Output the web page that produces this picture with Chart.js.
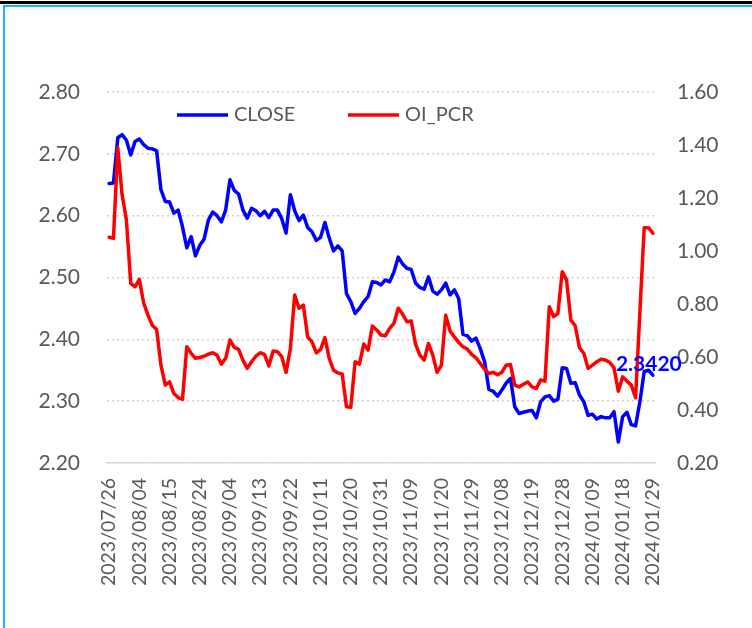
<!DOCTYPE html>
<html>
<head>
<meta charset="utf-8">
<script src="https://cdn.jsdelivr.net/npm/chart.js@4.4.0/dist/chart.umd.min.js"></script>
<style>
  html, body { margin: 0; padding: 0; background: #fff; }
  #wrap { position: relative; width: 752px; height: 628px; overflow: hidden; }
  #topbar { position: absolute; left: 0; top: 1px; width: 752px; height: 3px; background: #000; }
  #frame { position: absolute; left: 3px; top: 5px; width: 800px; height: 700px;
           border-top: 2px solid #19b5f0; border-left: 2px solid #19b5f0; }
  canvas { position: absolute; left: 0; top: 0; }
</style>
</head>
<body>
<div id="wrap">
  <div id="topbar"></div>
  <div id="frame"></div>
  <canvas id="chart" width="752" height="628"></canvas>
</div>
<script>
// trading days, 2023/07/26 .. 2024/01/29
const dates = [
  "2023/07/26","2023/07/27","2023/07/28","2023/07/31",
  "2023/08/01","2023/08/02","2023/08/03","2023/08/04","2023/08/07","2023/08/08","2023/08/09","2023/08/10",
  "2023/08/11","2023/08/14","2023/08/15","2023/08/16","2023/08/17","2023/08/18","2023/08/21","2023/08/22",
  "2023/08/23","2023/08/24","2023/08/25","2023/08/28","2023/08/29","2023/08/30","2023/08/31",
  "2023/09/01","2023/09/04","2023/09/05","2023/09/06","2023/09/07","2023/09/08","2023/09/11","2023/09/12",
  "2023/09/13","2023/09/14","2023/09/15","2023/09/18","2023/09/19","2023/09/20","2023/09/21","2023/09/22",
  "2023/09/25","2023/09/26","2023/09/27","2023/09/28",
  "2023/10/09","2023/10/10","2023/10/11","2023/10/12","2023/10/13","2023/10/16","2023/10/17","2023/10/18",
  "2023/10/19","2023/10/20","2023/10/23","2023/10/24","2023/10/25","2023/10/26","2023/10/27","2023/10/30",
  "2023/10/31",
  "2023/11/01","2023/11/02","2023/11/03","2023/11/06","2023/11/07","2023/11/08","2023/11/09","2023/11/10",
  "2023/11/13","2023/11/14","2023/11/15","2023/11/16","2023/11/17","2023/11/20","2023/11/21","2023/11/22",
  "2023/11/23","2023/11/24","2023/11/27","2023/11/28","2023/11/29","2023/11/30",
  "2023/12/01","2023/12/04","2023/12/05","2023/12/06","2023/12/07","2023/12/08","2023/12/11","2023/12/12",
  "2023/12/13","2023/12/14","2023/12/15","2023/12/18","2023/12/19","2023/12/20","2023/12/21","2023/12/22",
  "2023/12/25","2023/12/26","2023/12/27","2023/12/28","2023/12/29",
  "2024/01/02","2024/01/03","2024/01/04","2024/01/05","2024/01/08","2024/01/09","2024/01/10","2024/01/11",
  "2024/01/12","2024/01/15","2024/01/16","2024/01/17","2024/01/18","2024/01/19","2024/01/22","2024/01/23",
  "2024/01/24","2024/01/25","2024/01/26","2024/01/29"
];

const closeValues = [
  2.652,2.653,2.726,2.731,2.722,2.698,2.720,2.724,2.715,2.709,
  2.708,2.705,2.642,2.623,2.622,2.604,2.609,2.582,2.548,2.566,
  2.535,2.552,2.562,2.593,2.606,2.600,2.590,2.609,2.658,2.641,
  2.635,2.609,2.596,2.612,2.608,2.600,2.607,2.597,2.609,2.609,
  2.595,2.572,2.634,2.608,2.592,2.601,2.581,2.574,2.560,2.565,
  2.589,2.564,2.543,2.551,2.543,2.474,2.461,2.442,2.450,2.461,
  2.469,2.493,2.492,2.488,2.496,2.493,2.509,2.533,2.522,2.515,
  2.513,2.491,2.484,2.481,2.501,2.478,2.473,2.480,2.491,2.472,
  2.480,2.466,2.408,2.406,2.397,2.402,2.385,2.364,2.319,2.316,
  2.308,2.318,2.329,2.337,2.291,2.280,2.282,2.284,2.285,2.273,
  2.299,2.307,2.309,2.300,2.303,2.354,2.353,2.329,2.330,2.310,
  2.299,2.277,2.279,2.271,2.275,2.273,2.273,2.283,2.234,2.275,
  2.282,2.262,2.260,2.299,2.348,2.350,2.342
];

const oiPcrValues = [
  1.052,1.048,1.390,1.212,1.117,0.878,0.865,0.893,0.803,0.758,
  0.720,0.704,0.569,0.494,0.506,0.462,0.447,0.440,0.639,0.614,
  0.595,0.598,0.603,0.611,0.616,0.607,0.573,0.595,0.664,0.636,
  0.629,0.588,0.557,0.582,0.603,0.616,0.610,0.566,0.623,0.620,
  0.601,0.542,0.632,0.834,0.784,0.796,0.676,0.657,0.616,0.629,
  0.673,0.595,0.550,0.540,0.536,0.412,0.410,0.582,0.573,0.649,
  0.626,0.717,0.702,0.683,0.680,0.708,0.727,0.784,0.762,0.733,
  0.736,0.649,0.607,0.588,0.651,0.607,0.542,0.569,0.758,0.698,
  0.676,0.655,0.639,0.630,0.610,0.597,0.576,0.554,0.538,0.542,
  0.533,0.542,0.569,0.572,0.494,0.487,0.497,0.506,0.487,0.481,
  0.513,0.509,0.790,0.752,0.765,0.922,0.891,0.739,0.718,0.635,
  0.614,0.557,0.569,0.582,0.592,0.588,0.580,0.559,0.471,0.525,
  0.509,0.494,0.446,0.770,1.088,1.088,1.067
];

const leftAxis = { min: 2.2, max: 2.8, step: 0.1 };
const rightAxis = { min: 0.2, max: 1.6, step: 0.2 };
const labelEvery = 7;
const lastCloseLabel = "2.3420";

const GREY = "#595959";
Chart.defaults.font.family = "Lato, 'Liberation Sans', sans-serif";
Chart.defaults.color = GREY;

// legend drawn inside the plot, like the excel original
const insideLegend = {
  id: "insideLegend",
  afterDatasetsDraw(chart) {
    const { ctx, chartArea } = chart;
    const y = chartArea.top + 23;
    let x = chartArea.left + 70;
    ctx.save();
    ctx.font = "20px Lato";
    ctx.textBaseline = "middle";
    chart.data.datasets.forEach(ds => {
      ctx.strokeStyle = ds.borderColor;
      ctx.lineWidth = 3.5;
      ctx.beginPath();
      ctx.moveTo(x, y);
      ctx.lineTo(x + 51, y);
      ctx.stroke();
      ctx.fillStyle = GREY;
      ctx.fillText(ds.label, x + 57, y);
      x += 171;
    });
    ctx.restore();
  }
};

// value tag on the last CLOSE point
const lastValueTag = {
  id: "lastValueTag",
  afterDatasetsDraw(chart) {
    const meta = chart.getDatasetMeta(0);
    const pt = meta.data[meta.data.length - 1];
    if (!pt) return;
    const ctx = chart.ctx;
    ctx.save();
    ctx.font = "bold 21px Lato";
    ctx.fillStyle = "#0000ff";
    ctx.textAlign = "center";
    ctx.textBaseline = "middle";
    ctx.fillText(lastCloseLabel, pt.x - 4, pt.y - 11);
    ctx.restore();
  }
};

new Chart(document.getElementById("chart"), {
  type: "line",
  data: {
    labels: dates,
    datasets: [
      {
        label: "CLOSE",
        data: closeValues,
        yAxisID: "y",
        borderColor: "#0000ff",
        backgroundColor: "#0000ff",
        borderWidth: 3.5,
        pointRadius: 0,
        tension: 0,
        borderJoinStyle: "round",
        borderCapStyle: "round",
        order: 2
      },
      {
        label: "OI_PCR",
        data: oiPcrValues,
        yAxisID: "y1",
        borderColor: "#ff0000",
        backgroundColor: "#ff0000",
        borderWidth: 3.5,
        pointRadius: 0,
        tension: 0,
        borderJoinStyle: "round",
        borderCapStyle: "round",
        order: 1
      }
    ]
  },
  options: {
    responsive: false,
    animation: false,
    devicePixelRatio: 1,
    layout: { padding: { top: 92, left: 0, right: 0, bottom: 0 } },
    plugins: { legend: { display: false }, tooltip: { enabled: false } },
    scales: {
      x: {
        offset: true,
        grid: { display: false },
        border: { display: true, color: "#d9d9d9", width: 1.5 },
        ticks: {
          autoSkip: false,
          maxRotation: 90,
          minRotation: 90,
          padding: 7,
          font: { size: 19.5 },
          color: GREY,
          callback: (v, i) => (i % labelEvery === 0 ? dates[i] : null)
        },
        afterFit: s => { s.height = 165; }
      },
      y: {
        position: "left",
        min: leftAxis.min,
        max: leftAxis.max,
        border: { display: false, dash: [2, 3] },
        grid: { color: "#cfcfcf", lineWidth: 1.4, drawTicks: false },
        ticks: {
          stepSize: leftAxis.step,
          padding: 27,
          font: { size: 21 },
          color: GREY,
          callback: v => v.toFixed(2)
        },
        afterFit: s => { s.width = 107; }
      },
      y1: {
        position: "right",
        min: rightAxis.min,
        max: rightAxis.max,
        border: { display: false },
        grid: { display: false, drawTicks: false },
        ticks: {
          stepSize: rightAxis.step,
          padding: 22,
          font: { size: 21 },
          color: GREY,
          callback: v => v.toFixed(2)
        },
        afterFit: s => { s.width = 97; }
      }
    }
  },
  plugins: [insideLegend, lastValueTag]
});
</script>
</body>
</html>
